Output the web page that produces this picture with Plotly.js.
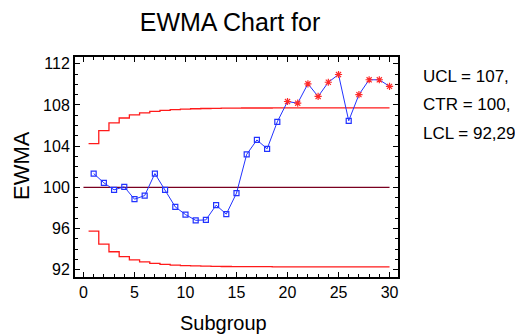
<!DOCTYPE html>
<html>
<head>
<meta charset="utf-8">
<script src="https://cdn.plot.ly/plotly-3.0.1.min.js"></script>
<style>html,body{margin:0;padding:0;background:#fff;overflow:hidden}#chart{width:515px;height:336px}</style>
</head>
<body>
<div id="chart"></div>
<script>
const subgroups = [1,2,3,4,5,6,7,8,9,10,11,12,13,14,15,16,17,18,19,20,21,22,23,24,25,26,27,28,29,30];
const ewma = [101.34,100.44,99.76,100.05,98.85,99.2,101.34,99.76,98.1,97.36,96.8,96.84,98.27,97.4,99.44,103.2,104.6,103.74,106.36,108.33,108.17,110.05,108.82,110.2,110.95,106.46,109.0,110.44,110.44,109.8];
const ucl = [104.25,105.5,106.25,106.73,107.03,107.23,107.37,107.47,107.54,107.59,107.63,107.65,107.67,107.68,107.69,107.7,107.7,107.7,107.71,107.71,107.71,107.71,107.71,107.71,107.71,107.71,107.71,107.71,107.71,107.71];
const lcl = [95.75,94.5,93.75,93.27,92.97,92.77,92.63,92.53,92.46,92.41,92.37,92.35,92.33,92.32,92.31,92.3,92.3,92.3,92.29,92.29,92.29,92.29,92.29,92.29,92.29,92.29,92.29,92.29,92.29,92.29];
const ctr = 100;
const centerSpan = [0, 30];
const limitLabels = ["UCL = 107,", "CTR = 100,", "LCL = 92,29"];
const xTicks = [0,5,10,15,20,25,30];
const yTicks = [92,96,100,104,108,112];

const outIdx = ewma.map((v,i)=> (v>ucl[i]||v<lcl[i]) ? i : -1).filter(i=>i>=0);
const inIdx = ewma.map((v,i)=> (v<=ucl[i]&&v>=lcl[i]) ? i : -1).filter(i=>i>=0);

const FONT = 'Liberation Sans, Arial, sans-serif';
const stepX = [subgroups[0]-0.5].concat(subgroups);

const traces = [
  {x: stepX, y: [ucl[0]].concat(ucl), mode:'lines', line:{color:'#ff1a1a', width:1.3, shape:'hvh'}, hoverinfo:'skip'},
  {x: stepX, y: [lcl[0]].concat(lcl), mode:'lines', line:{color:'#ff1a1a', width:1.3, shape:'hvh'}, hoverinfo:'skip'},
  {x: centerSpan, y: [ctr, ctr], mode:'lines', line:{color:'#7a0020', width:1.2}, hoverinfo:'skip'},
  {x: subgroups, y: ewma, mode:'lines', line:{color:'#2233ff', width:1}},
  {x: inIdx.map(i=>subgroups[i]), y: inIdx.map(i=>ewma[i]), mode:'markers',
   marker:{symbol:'square-open', size:5, color:'#2233ff', line:{width:1.2, color:'#2233ff'}}},
  {x: outIdx.map(i=>subgroups[i]), y: outIdx.map(i=>ewma[i]), mode:'markers',
   marker:{symbol:'asterisk-open', size:6, color:'#ff2a2a', line:{width:1.2, color:'#ff2a2a'}}}
];

const axisCommon = {
  showgrid:false, zeroline:false, showline:true, linecolor:'#000', linewidth:2,
  mirror:'allticks', ticks:'inside', ticklen:5, tickwidth:1, tickcolor:'#000',
  tickfont:{family:FONT, size:16, color:'#000'},
  minor:{ticks:'inside', ticklen:3, tickwidth:1, tickcolor:'#000', dtick:1}
};

const layout = {
  width:515, height:336,
  margin:{l:75, r:117, t:57, b:59},
  paper_bgcolor:'#fff', plot_bgcolor:'#fff',
  showlegend:false,
  title:{text:'EWMA Chart for', font:{family:FONT, size:25, color:'#000'},
         x:230/515, xref:'container', xanchor:'center', y:1-22/336, yref:'container', yanchor:'middle'},
  xaxis: Object.assign({}, axisCommon, {range:[-0.83, 30.83], tickvals:xTicks, ticktext:xTicks.map(String)}),
  yaxis: Object.assign({}, axisCommon, {range:[91.3, 112.65], tickvals:yTicks, ticktext:yTicks.map(String)}),
  annotations: limitLabels.map((t,i)=>({
    text:t, xref:'paper', yref:'paper', x:(421-75)/323, xanchor:'left',
    y: [1-(76-57)/220, 1-(104-57)/220, 1-(133-57)/220][i], yanchor:'middle',
    showarrow:false, font:{family:FONT, size:17, color:'#000'}
  })).concat([
    {text:'Subgroup', xref:'paper', yref:'paper', x:(223-75)/323, xanchor:'center',
     y:1-(323-57)/220, yanchor:'middle', showarrow:false, font:{family:FONT, size:20, color:'#000'}},
    {text:'EWMA', xref:'paper', yref:'paper', x:(21-75)/323, xanchor:'center',
     y:1-(166-57)/220, yanchor:'middle', textangle:-90, showarrow:false, font:{family:FONT, size:22, color:'#000'}}
  ])
};

Plotly.newPlot('chart', traces, layout, {staticPlot:true, displayModeBar:false});
</script>
</body>
</html>
